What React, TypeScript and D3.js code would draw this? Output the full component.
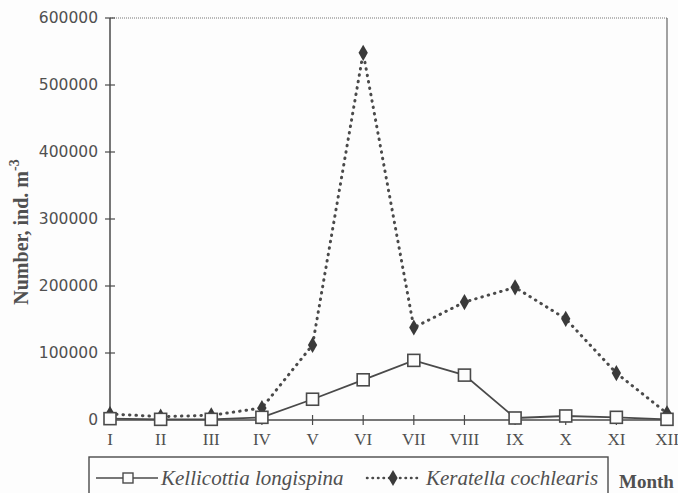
import React, { useEffect, useRef } from 'react';
import * as d3 from 'd3';

const months = ['I', 'II', 'III', 'IV', 'V', 'VI', 'VII', 'VIII', 'IX', 'X', 'XI', 'XII'];
const kellicottia = [2000, 1000, 1000, 4000, 31000, 60000, 89000, 67000, 3000, 6000, 4000, 1000];
const keratella = [9000, 5000, 7000, 18000, 112000, 548000, 138000, 176000, 198000, 151000, 70000, 10000];
const yTicks = [0, 100000, 200000, 300000, 400000, 500000, 600000];

const INK = '#4a4a4a';
const TEXT = '#505050';

function App() {
  const ref = useRef<SVGSVGElement | null>(null);

  useEffect(() => {
    const svg = d3.select(ref.current);
    svg.selectAll('*').remove();

    const left = 110, right = 667, top = 18, bottom = 420;

    const x = d3.scalePoint<string>().domain(months).range([left, right]);
    const y = d3.scaleLinear().domain([0, 600000]).range([bottom, top]);

    svg.append('rect').attr('width', 678).attr('height', 493).attr('fill', '#fdfdfd');

    // frame
    svg.append('line').attr('x1', left).attr('x2', right).attr('y1', top).attr('y2', top)
      .attr('stroke', '#777').attr('stroke-width', 1.2).attr('stroke-dasharray', '1,1');
    svg.append('line').attr('x1', right).attr('x2', right).attr('y1', top).attr('y2', bottom)
      .attr('stroke', '#666').attr('stroke-width', 1.2);

    // y axis
    svg.append('line').attr('x1', left).attr('x2', left).attr('y1', top).attr('y2', bottom)
      .attr('stroke', INK).attr('stroke-width', 1.5);
    yTicks.forEach((t) => {
      svg.append('line').attr('x1', left - 5).attr('x2', left + 5).attr('y1', y(t)).attr('y2', y(t))
        .attr('stroke', INK).attr('stroke-width', 1.2);
      svg.append('text').attr('x', left - 12).attr('y', y(t)).attr('dy', '0.35em')
        .attr('text-anchor', 'end').attr('font-family', 'DejaVu Sans, sans-serif')
        .attr('font-size', 15.5).attr('fill', TEXT).text(String(t));
    });

    // x axis
    svg.append('line').attr('x1', left).attr('x2', right).attr('y1', bottom).attr('y2', bottom)
      .attr('stroke', INK).attr('stroke-width', 1.5);
    months.forEach((m) => {
      svg.append('line').attr('x1', x(m)!).attr('x2', x(m)!).attr('y1', bottom - 5).attr('y2', bottom + 5)
        .attr('stroke', INK).attr('stroke-width', 1.2);
      svg.append('text').attr('x', x(m)!).attr('y', bottom + 25)
        .attr('text-anchor', 'middle').attr('font-family', 'Liberation Serif, serif')
        .attr('font-size', 17).attr('fill', TEXT).text(m);
    });

    // y label
    const yl = svg.append('text')
      .attr('transform', 'translate(28,232) rotate(-90)')
      .attr('text-anchor', 'middle').attr('font-family', 'Liberation Serif, serif')
      .attr('font-weight', 'bold').attr('font-size', 20).attr('fill', TEXT);
    yl.append('tspan').text('Number, ind. m');
    yl.append('tspan').attr('dy', -9).attr('font-size', 14).text('-3');

    const line = d3.line<number>().x((_, i) => x(months[i])!).y((d) => y(d));

    // Keratella
    svg.append('path').datum(keratella).attr('d', line).attr('fill', 'none')
      .attr('stroke', INK).attr('stroke-width', 3).attr('stroke-linecap', 'round')
      .attr('stroke-dasharray', '0.5,6');
    const diamond = d3.symbol().type(d3.symbolDiamond).size(75);
    svg.selectAll('.kd').data(keratella).enter().append('path')
      .attr('transform', (d, i) => `translate(${x(months[i])},${y(d)})`)
      .attr('d', diamond).attr('fill', '#3a3a3a');

    // Kellicottia
    svg.append('path').datum(kellicottia).attr('d', line).attr('fill', 'none')
      .attr('stroke', INK).attr('stroke-width', 1.8);
    svg.selectAll('.ks').data(kellicottia).enter().append('rect')
      .attr('x', (d, i) => x(months[i])! - 6).attr('y', (d) => y(d) - 6)
      .attr('width', 12).attr('height', 12)
      .attr('fill', '#fdfdfd').attr('stroke', INK).attr('stroke-width', 1.6);

    // legend
    svg.append('rect').attr('x', 89).attr('y', 457).attr('width', 519).attr('height', 50)
      .attr('fill', 'none').attr('stroke', INK).attr('stroke-width', 1.4);
    const ly = 478;
    svg.append('line').attr('x1', 96).attr('x2', 158).attr('y1', ly).attr('y2', ly)
      .attr('stroke', INK).attr('stroke-width', 1.6);
    svg.append('rect').attr('x', 123).attr('y', ly - 5).attr('width', 10).attr('height', 10)
      .attr('fill', '#fdfdfd').attr('stroke', INK).attr('stroke-width', 1.4);
    svg.append('text').attr('x', 161).attr('y', ly + 7).attr('font-family', 'Liberation Serif, serif')
      .attr('font-style', 'italic').attr('font-size', 21).attr('fill', TEXT).text('Kellicottia longispina');
    svg.append('line').attr('x1', 367).attr('x2', 420).attr('y1', ly).attr('y2', ly)
      .attr('stroke', INK).attr('stroke-width', 2.5).attr('stroke-linecap', 'round')
      .attr('stroke-dasharray', '0.5,5');
    svg.append('path').attr('transform', `translate(393,${ly})`).attr('d', diamond).attr('fill', '#3a3a3a');
    svg.append('text').attr('x', 426).attr('y', ly + 7).attr('font-family', 'Liberation Serif, serif')
      .attr('font-style', 'italic').attr('font-size', 21).attr('fill', TEXT).text('Keratella cochlearis');

    svg.append('text').attr('x', 619).attr('y', 488).attr('font-family', 'Liberation Serif, serif')
      .attr('font-weight', 'bold').attr('font-size', 19).attr('fill', TEXT).text('Month');
  }, []);

  return (
    <svg ref={ref} width={678} height={493} style={{ position: 'absolute', left: 0, top: 0 }} />
  );
}

export default App;
